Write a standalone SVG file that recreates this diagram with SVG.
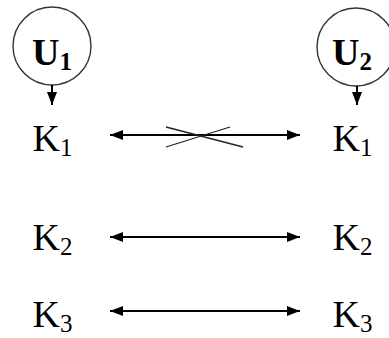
<svg xmlns="http://www.w3.org/2000/svg" width="389" height="338" viewBox="0 0 389 338">
<style>
.k{font-family:'Liberation Serif','DejaVu Serif',serif;font-size:38px;fill:#000}
.u{font-family:'Liberation Serif','DejaVu Serif',serif;font-size:38px;font-weight:bold;fill:#000}
.sub{font-size:25px}
.circ{fill:none;stroke:#333;stroke-width:1.4}
.conn{stroke:#000;stroke-width:2;fill:none}
.cross{stroke:#222;stroke-width:1.3;fill:none}
</style>
<defs>
<marker id="ah" markerUnits="userSpaceOnUse" markerWidth="14" markerHeight="10" refX="13" refY="5" orient="auto-start-reverse">
<path d="M0,0 L13,5 L0,10 z" fill="#000"/>
</marker>
</defs>
<rect width="389" height="338" fill="#fff"/>
<g id="U1"><circle class="circ" cx="52" cy="46" r="39"/><text class="u" font-family="Liberation Serif, serif" x="32" y="65">U<tspan class="sub" dy="5">1</tspan></text></g>
<g id="U2"><circle class="circ" cx="356" cy="47" r="39"/><text class="u" font-family="Liberation Serif, serif" x="332" y="65">U<tspan class="sub" dy="5">2</tspan></text></g>
<g id="K1L"><text class="k" font-family="Liberation Serif, serif" x="32.5" y="151">K<tspan class="sub" dy="5">1</tspan></text></g>
<g id="K2L"><text class="k" font-family="Liberation Serif, serif" x="32.5" y="250">K<tspan class="sub" dy="5">2</tspan></text></g>
<g id="K3L"><text class="k" font-family="Liberation Serif, serif" x="32.5" y="327">K<tspan class="sub" dy="5">3</tspan></text></g>
<g id="K1R"><text class="k" font-family="Liberation Serif, serif" x="332.5" y="151">K<tspan class="sub" dy="5">1</tspan></text></g>
<g id="K2R"><text class="k" font-family="Liberation Serif, serif" x="332.5" y="250">K<tspan class="sub" dy="5">2</tspan></text></g>
<g id="K3R"><text class="k" font-family="Liberation Serif, serif" x="332.5" y="327">K<tspan class="sub" dy="5">3</tspan></text></g>
<g id="connectors">
<line class="conn" x1="52" y1="85" x2="52" y2="105" marker-end="url(#ah)"/>
<line class="conn" x1="357" y1="86" x2="357" y2="105" marker-end="url(#ah)"/>
<line class="conn" x1="110" y1="135" x2="300" y2="135" marker-start="url(#ah)" marker-end="url(#ah)"/>
<line class="conn" x1="110" y1="237" x2="300" y2="237" marker-start="url(#ah)" marker-end="url(#ah)"/>
<line class="conn" x1="110" y1="311" x2="300" y2="311" marker-start="url(#ah)" marker-end="url(#ah)"/>
<line class="cross" x1="166" y1="127" x2="243" y2="147"/>
<line class="cross" x1="166" y1="147" x2="230" y2="127"/>
</g>
</svg>
